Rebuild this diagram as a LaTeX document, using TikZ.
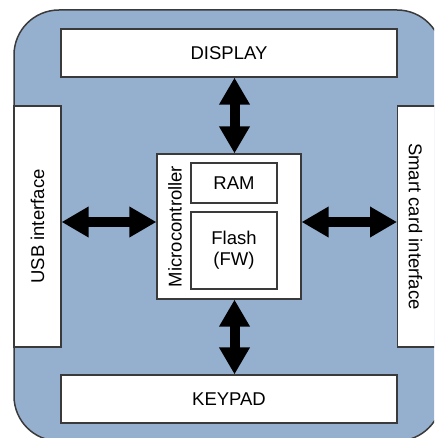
\documentclass[tikz,border=0pt]{standalone}
\usepackage{fontspec}
\setmainfont{Liberation Sans}
\usetikzlibrary{arrows.meta}
\definecolor{bgblue}{HTML}{95AFCF}
\definecolor{edge}{HTML}{3A3A3A}
\tikzset{
  box/.style={draw=edge, line width=1.2pt, fill=white, inner sep=0pt, font=\fontsize{18.5}{21}\selectfont},
  bigarrow/.style={line width=10pt, {Triangle[length=27pt,width=29pt]}-{Triangle[length=27pt,width=29pt]}, shorten <=0pt, shorten >=0pt}
}
\begin{document}
\begin{tikzpicture}[x=1pt,y=-1pt]
\useasboundingbox (0,0) rectangle (434,438);
\clip (0,0) rectangle (434,438);
\fill[white] (0,0) rectangle (434,438);
\draw[draw=edge, line width=1.5pt, fill=bgblue, rounded corners=45pt] (14,10) rectangle (442,441);
% boxes
\node[box, minimum width=336pt, minimum height=48pt] (disp) at (229,53) {DISPLAY};
\node[box, minimum width=336pt, minimum height=48pt] (key) at (229,399) {KEYPAD};
\node[box, minimum width=47pt, minimum height=241pt] (usb) at (37.5,226.5) {};
\node[rotate=90, font=\fontsize{18.5}{21}\selectfont] (usbt) at (usb.center) {USB interface};
\node[box, minimum width=50pt, minimum height=241pt, anchor=west] (sc) at (397,226.5) {};
\node[rotate=-90, font=\fontsize{18.5}{21}\selectfont] (sct) at (415.5,226.5) {Smart card interface};
\node[box, minimum width=144pt, minimum height=145pt] (mc) at (229,226.5) {};
\node[rotate=90, font=\fontsize{18.5}{21}\selectfont] (mct) at (175,226.5) {Microcontroller};
\node[box, minimum width=86pt, minimum height=40pt] (ram) at (234,183) {RAM};
\node[box, minimum width=86pt, minimum height=77pt, align=center] (flash) at (234,250.5) {Flash\\(FW)};
% arrows
\draw[bigarrow] (disp.south -| 234.5,0) -- (mc.north -| 234.5,0);
\draw[bigarrow] (key.north -| 234.5,0) -- (mc.south -| 234.5,0);
\draw[bigarrow] (usb.east |- 0,222) -- (mc.west |- 0,222);
\draw[bigarrow] (sc.west |- 0,222) -- (mc.east |- 0,222);
\end{tikzpicture}
\end{document}
